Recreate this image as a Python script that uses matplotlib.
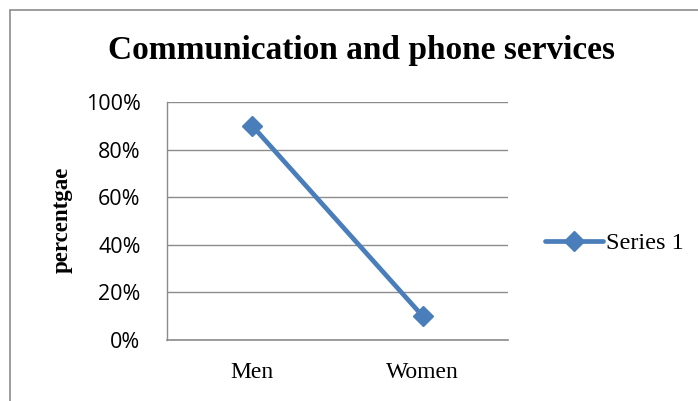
import matplotlib
matplotlib.use("Agg")
import matplotlib.pyplot as plt
from matplotlib.ticker import PercentFormatter
from matplotlib.patches import Rectangle

categories = ["Men", "Women"]
series1 = [90, 10]
yticks = [0, 20, 40, 60, 80, 100]

W, H = 698, 401
fig = plt.figure(figsize=(W / 100, H / 100), dpi=100)
fig.patch.set_facecolor("white")

# outer chart border (extends beyond image on right/bottom)
fig.patches.append(Rectangle((10 / W, -0.05), 1.2, 1 - 10 / H + 0.05, transform=fig.transFigure,
                             fill=False, edgecolor="#8c8c8c", linewidth=1.2))

ax = fig.add_axes([167 / W, 1 - 340 / H, (508 - 167) / W, (340 - 102) / H])
x = list(range(len(categories)))
ax.plot(x, series1, color="#4a7ebb", linewidth=3.4, marker="D", markersize=10,
        markeredgecolor="#4a7ebb", markerfacecolor="#4a7ebb", label="Series 1", solid_capstyle="round")
ax.set_xlim(-0.5, 1.5)
ax.set_ylim(0, 100)
ax.set_yticks(yticks)
ax.yaxis.set_major_formatter(PercentFormatter(decimals=0))
ax.set_xticks(x)
ax.set_xticklabels(categories, fontfamily="Liberation Serif", fontsize=17)
for lab in ax.get_yticklabels():
    lab.set_fontfamily("Open Sans")
    lab.set_fontsize(15.5)
ax.grid(axis="y", color="#8c8c8c", linewidth=1)
ax.set_axisbelow(True)
for s in ["top", "right"]:
    ax.spines[s].set_visible(False)
ax.spines["left"].set_color("#8c8c8c")
ax.spines["bottom"].set_color("#8c8c8c")
ax.spines["left"].set_linewidth(1)
ax.spines["bottom"].set_linewidth(1.2)
ax.tick_params(axis="both", length=0)
ax.tick_params(axis="y", pad=19)
ax.tick_params(axis="x", pad=16)

fig.text(361 / W, 1 - 50 / H, "Communication and phone services", ha="center", va="center",
         fontfamily="Liberation Serif", fontweight="bold", fontsize=24)
fig.text(62 / W, 1 - 220 / H, "percentgae", ha="center", va="center", rotation=90,
         fontfamily="Liberation Serif", fontweight="bold", fontsize=16.5)

leg = fig.legend(loc="center left", bbox_to_anchor=(545 / W, 1 - 243 / H), frameon=False,
                 prop={"family": "Liberation Serif", "size": 17.5}, handlelength=2.4, handletextpad=0.1,
                 borderaxespad=0, borderpad=0)

fig.savefig("out.png", dpi=100)
